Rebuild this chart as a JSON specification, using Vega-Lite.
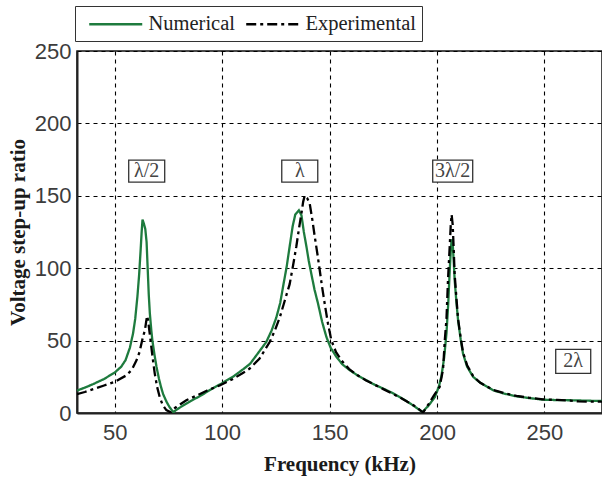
{
  "$schema": "https://vega.github.io/schema/vega-lite/v6.json",
  "width": 525,
  "height": 362,
  "autosize": {"type": "none"},
  "padding": {"left": 77, "top": 51, "right": 0, "bottom": 66},
  "background": "white",
  "config": {
    "view": {"stroke": "#111", "strokeWidth": 1.5},
    "axis": {
      "labelFont": "Liberation Sans",
      "labelFontSize": 22,
      "labelColor": "#3c3c3c",
      "titleFont": "Liberation Serif",
      "titleFontWeight": "bold",
      "titleFontSize": 21,
      "titleColor": "#1a1a1a",
      "grid": true,
      "gridColor": "#000",
      "gridDash": [4, 4],
      "gridWidth": 1.1,
      "gridOpacity": 1,
      "domainColor": "#222",
      "domainWidth": 2,
      "ticks": false
    },
    "legend": {
      "orient": "none",
      "legendX": -2,
      "legendY": -45,
      "direction": "horizontal",
      "symbolType": "M-0.36,0H4.69",
      "symbolSize": 441,
      "symbolStrokeWidth": 2.5,
      "labelFont": "Liberation Serif",
      "labelFontSize": 20.5,
      "labelColor": "#222",
      "labelOffset": 43.5,
      "columnPadding": 2,
      "padding": 6,
      "strokeColor": "#333",
      "fillColor": "white",
      "title": null
    }
  },
  "datasets": {
    "curves": [
      {"f": 32.4, "v": 15.5, "series": "Numerical"},
      {"f": 36, "v": 17.5, "series": "Numerical"},
      {"f": 40, "v": 20, "series": "Numerical"},
      {"f": 45, "v": 23.5, "series": "Numerical"},
      {"f": 50, "v": 28, "series": "Numerical"},
      {"f": 53, "v": 32, "series": "Numerical"},
      {"f": 55, "v": 36.5, "series": "Numerical"},
      {"f": 57, "v": 45, "series": "Numerical"},
      {"f": 58.5, "v": 55, "series": "Numerical"},
      {"f": 59.5, "v": 65, "series": "Numerical"},
      {"f": 60.5, "v": 80, "series": "Numerical"},
      {"f": 61.3, "v": 95, "series": "Numerical"},
      {"f": 62, "v": 112, "series": "Numerical"},
      {"f": 62.5, "v": 125, "series": "Numerical"},
      {"f": 62.9, "v": 133.5, "series": "Numerical"},
      {"f": 63.5, "v": 131, "series": "Numerical"},
      {"f": 64.2, "v": 127, "series": "Numerical"},
      {"f": 64.8, "v": 118, "series": "Numerical"},
      {"f": 65.3, "v": 100, "series": "Numerical"},
      {"f": 65.8, "v": 82, "series": "Numerical"},
      {"f": 66.3, "v": 69, "series": "Numerical"},
      {"f": 67, "v": 57, "series": "Numerical"},
      {"f": 67.5, "v": 50, "series": "Numerical"},
      {"f": 68.5, "v": 40, "series": "Numerical"},
      {"f": 69.4, "v": 32, "series": "Numerical"},
      {"f": 70.5, "v": 24, "series": "Numerical"},
      {"f": 71.5, "v": 18, "series": "Numerical"},
      {"f": 72.5, "v": 13, "series": "Numerical"},
      {"f": 74, "v": 8, "series": "Numerical"},
      {"f": 75.5, "v": 4, "series": "Numerical"},
      {"f": 77.3, "v": 0.5, "series": "Numerical"},
      {"f": 78, "v": 1.5, "series": "Numerical"},
      {"f": 80, "v": 3.5, "series": "Numerical"},
      {"f": 85, "v": 8, "series": "Numerical"},
      {"f": 90, "v": 12, "series": "Numerical"},
      {"f": 95, "v": 16.5, "series": "Numerical"},
      {"f": 99, "v": 19.8, "series": "Numerical"},
      {"f": 105, "v": 25, "series": "Numerical"},
      {"f": 110, "v": 30.5, "series": "Numerical"},
      {"f": 113, "v": 34, "series": "Numerical"},
      {"f": 117, "v": 42, "series": "Numerical"},
      {"f": 120.5, "v": 49, "series": "Numerical"},
      {"f": 123, "v": 57, "series": "Numerical"},
      {"f": 125.2, "v": 66, "series": "Numerical"},
      {"f": 127, "v": 76, "series": "Numerical"},
      {"f": 128.3, "v": 87, "series": "Numerical"},
      {"f": 130, "v": 101, "series": "Numerical"},
      {"f": 131.4, "v": 115, "series": "Numerical"},
      {"f": 132.8, "v": 129, "series": "Numerical"},
      {"f": 134, "v": 137, "series": "Numerical"},
      {"f": 135.7, "v": 140, "series": "Numerical"},
      {"f": 136.9, "v": 136.5, "series": "Numerical"},
      {"f": 138, "v": 125, "series": "Numerical"},
      {"f": 139.2, "v": 115, "series": "Numerical"},
      {"f": 140.3, "v": 105, "series": "Numerical"},
      {"f": 141.5, "v": 96, "series": "Numerical"},
      {"f": 143, "v": 85, "series": "Numerical"},
      {"f": 144.6, "v": 75.6, "series": "Numerical"},
      {"f": 146.5, "v": 63, "series": "Numerical"},
      {"f": 148.5, "v": 52.5, "series": "Numerical"},
      {"f": 150.5, "v": 45, "series": "Numerical"},
      {"f": 153.2, "v": 38.7, "series": "Numerical"},
      {"f": 156, "v": 33.5, "series": "Numerical"},
      {"f": 159.4, "v": 29.5, "series": "Numerical"},
      {"f": 163, "v": 26, "series": "Numerical"},
      {"f": 167.1, "v": 22.6, "series": "Numerical"},
      {"f": 171, "v": 19.5, "series": "Numerical"},
      {"f": 174.9, "v": 16.9, "series": "Numerical"},
      {"f": 179, "v": 14, "series": "Numerical"},
      {"f": 182.6, "v": 11, "series": "Numerical"},
      {"f": 186, "v": 8, "series": "Numerical"},
      {"f": 188.8, "v": 5.3, "series": "Numerical"},
      {"f": 191, "v": 3, "series": "Numerical"},
      {"f": 193.2, "v": 0.7, "series": "Numerical"},
      {"f": 196, "v": 5, "series": "Numerical"},
      {"f": 199, "v": 11, "series": "Numerical"},
      {"f": 200.8, "v": 18, "series": "Numerical"},
      {"f": 202, "v": 25, "series": "Numerical"},
      {"f": 203.3, "v": 38, "series": "Numerical"},
      {"f": 204.4, "v": 55, "series": "Numerical"},
      {"f": 205.2, "v": 75, "series": "Numerical"},
      {"f": 205.9, "v": 98, "series": "Numerical"},
      {"f": 206.4, "v": 112, "series": "Numerical"},
      {"f": 206.8, "v": 120, "series": "Numerical"},
      {"f": 207.3, "v": 117, "series": "Numerical"},
      {"f": 207.8, "v": 104, "series": "Numerical"},
      {"f": 208.2, "v": 92, "series": "Numerical"},
      {"f": 209, "v": 77, "series": "Numerical"},
      {"f": 209.8, "v": 64, "series": "Numerical"},
      {"f": 211, "v": 51, "series": "Numerical"},
      {"f": 212.1, "v": 41, "series": "Numerical"},
      {"f": 214, "v": 32, "series": "Numerical"},
      {"f": 216.8, "v": 25, "series": "Numerical"},
      {"f": 220, "v": 21, "series": "Numerical"},
      {"f": 226.1, "v": 15.7, "series": "Numerical"},
      {"f": 231, "v": 13.5, "series": "Numerical"},
      {"f": 237, "v": 11.5, "series": "Numerical"},
      {"f": 243, "v": 10.3, "series": "Numerical"},
      {"f": 249.3, "v": 9.2, "series": "Numerical"},
      {"f": 256, "v": 8.9, "series": "Numerical"},
      {"f": 262, "v": 8.8, "series": "Numerical"},
      {"f": 270, "v": 8.5, "series": "Numerical"},
      {"f": 276.8, "v": 8.3, "series": "Numerical"},

      {"f": 32.4, "v": 13, "series": "Experimental"},
      {"f": 36, "v": 14.5, "series": "Experimental"},
      {"f": 40, "v": 16.5, "series": "Experimental"},
      {"f": 45, "v": 19, "series": "Experimental"},
      {"f": 50, "v": 21.5, "series": "Experimental"},
      {"f": 55.4, "v": 26, "series": "Experimental"},
      {"f": 58, "v": 30, "series": "Experimental"},
      {"f": 60.1, "v": 36.4, "series": "Experimental"},
      {"f": 61.5, "v": 42, "series": "Experimental"},
      {"f": 63.1, "v": 52.5, "series": "Experimental"},
      {"f": 64, "v": 57, "series": "Experimental"},
      {"f": 64.6, "v": 63, "series": "Experimental"},
      {"f": 65, "v": 67, "series": "Experimental"},
      {"f": 65.5, "v": 64, "series": "Experimental"},
      {"f": 65.9, "v": 59, "series": "Experimental"},
      {"f": 66.5, "v": 52, "series": "Experimental"},
      {"f": 67, "v": 45.6, "series": "Experimental"},
      {"f": 67.8, "v": 36, "series": "Experimental"},
      {"f": 68.6, "v": 27.2, "series": "Experimental"},
      {"f": 69.7, "v": 18, "series": "Experimental"},
      {"f": 70.9, "v": 11, "series": "Experimental"},
      {"f": 72.3, "v": 5.5, "series": "Experimental"},
      {"f": 74, "v": 2, "series": "Experimental"},
      {"f": 76, "v": 0.5, "series": "Experimental"},
      {"f": 78, "v": 3.5, "series": "Experimental"},
      {"f": 80.5, "v": 6, "series": "Experimental"},
      {"f": 83.3, "v": 8.8, "series": "Experimental"},
      {"f": 88, "v": 12, "series": "Experimental"},
      {"f": 93, "v": 15.5, "series": "Experimental"},
      {"f": 98.8, "v": 19, "series": "Experimental"},
      {"f": 105, "v": 23.5, "series": "Experimental"},
      {"f": 110, "v": 28, "series": "Experimental"},
      {"f": 112.8, "v": 30.7, "series": "Experimental"},
      {"f": 117.4, "v": 37.6, "series": "Experimental"},
      {"f": 120, "v": 44, "series": "Experimental"},
      {"f": 122.1, "v": 49, "series": "Experimental"},
      {"f": 124.5, "v": 57, "series": "Experimental"},
      {"f": 126.8, "v": 66, "series": "Experimental"},
      {"f": 129, "v": 77, "series": "Experimental"},
      {"f": 131.4, "v": 89, "series": "Experimental"},
      {"f": 133, "v": 102, "series": "Experimental"},
      {"f": 134.5, "v": 115, "series": "Experimental"},
      {"f": 135.8, "v": 128, "series": "Experimental"},
      {"f": 136.9, "v": 138, "series": "Experimental"},
      {"f": 137.7, "v": 146, "series": "Experimental"},
      {"f": 138.4, "v": 150, "series": "Experimental"},
      {"f": 139.5, "v": 148.5, "series": "Experimental"},
      {"f": 140.7, "v": 145, "series": "Experimental"},
      {"f": 142, "v": 133, "series": "Experimental"},
      {"f": 143.1, "v": 121.6, "series": "Experimental"},
      {"f": 144.3, "v": 110, "series": "Experimental"},
      {"f": 145.4, "v": 98.6, "series": "Experimental"},
      {"f": 146.5, "v": 87, "series": "Experimental"},
      {"f": 147.7, "v": 75.6, "series": "Experimental"},
      {"f": 149.2, "v": 62, "series": "Experimental"},
      {"f": 150.8, "v": 50.2, "series": "Experimental"},
      {"f": 153, "v": 42, "series": "Experimental"},
      {"f": 155.5, "v": 36.4, "series": "Experimental"},
      {"f": 159, "v": 30.5, "series": "Experimental"},
      {"f": 163, "v": 26, "series": "Experimental"},
      {"f": 167, "v": 22.5, "series": "Experimental"},
      {"f": 171, "v": 19.5, "series": "Experimental"},
      {"f": 175, "v": 16.5, "series": "Experimental"},
      {"f": 179, "v": 13.5, "series": "Experimental"},
      {"f": 183, "v": 10.5, "series": "Experimental"},
      {"f": 187, "v": 7, "series": "Experimental"},
      {"f": 190, "v": 4.5, "series": "Experimental"},
      {"f": 193.5, "v": 0.3, "series": "Experimental"},
      {"f": 196, "v": 6, "series": "Experimental"},
      {"f": 198.5, "v": 12, "series": "Experimental"},
      {"f": 201.2, "v": 18, "series": "Experimental"},
      {"f": 202.8, "v": 30, "series": "Experimental"},
      {"f": 203.6, "v": 50, "series": "Experimental"},
      {"f": 204.4, "v": 65, "series": "Experimental"},
      {"f": 205.1, "v": 91.7, "series": "Experimental"},
      {"f": 205.9, "v": 115, "series": "Experimental"},
      {"f": 206.4, "v": 130, "series": "Experimental"},
      {"f": 206.8, "v": 137, "series": "Experimental"},
      {"f": 207.3, "v": 130, "series": "Experimental"},
      {"f": 207.8, "v": 112, "series": "Experimental"},
      {"f": 208.2, "v": 96, "series": "Experimental"},
      {"f": 209, "v": 80, "series": "Experimental"},
      {"f": 209.8, "v": 65, "series": "Experimental"},
      {"f": 211, "v": 52, "series": "Experimental"},
      {"f": 212.1, "v": 42, "series": "Experimental"},
      {"f": 214, "v": 33, "series": "Experimental"},
      {"f": 216.8, "v": 25.5, "series": "Experimental"},
      {"f": 220, "v": 21, "series": "Experimental"},
      {"f": 226, "v": 16, "series": "Experimental"},
      {"f": 231, "v": 13.8, "series": "Experimental"},
      {"f": 237, "v": 11.8, "series": "Experimental"},
      {"f": 243, "v": 10.5, "series": "Experimental"},
      {"f": 249.3, "v": 9.4, "series": "Experimental"},
      {"f": 256, "v": 9, "series": "Experimental"},
      {"f": 262, "v": 8.5, "series": "Experimental"},
      {"f": 266, "v": 8, "series": "Experimental"},
      {"f": 270, "v": 7.8, "series": "Experimental"},
      {"f": 276.8, "v": 7.8, "series": "Experimental"}
    ],
    "labels": [
      {"f": 64.85, "v": 167, "label": "λ/2"},
      {"f": 136.1, "v": 167, "label": "λ"},
      {"f": 207.3, "v": 167, "label": "3λ/2"},
      {"f": 263.4, "v": 35.7, "label": "2λ"}
    ]
  },
  "encoding": {
    "x": {
      "field": "f",
      "type": "quantitative",
      "scale": {"domain": [32.4, 276.8], "nice": false, "zero": false},
      "axis": {
        "values": [50, 100, 150, 200, 250],
        "title": "Frequency (kHz)",
        "labelPadding": 9,
        "titlePadding": 10
      }
    },
    "y": {
      "field": "v",
      "type": "quantitative",
      "scale": {"domain": [0, 250], "nice": false},
      "axis": {
        "values": [0, 50, 100, 150, 200, 250],
        "title": "Voltage step-up ratio",
        "labelPadding": 6,
        "titlePadding": 6
      }
    }
  },
  "layer": [
    {
      "data": {"name": "curves"},
      "transform": [{"filter": "datum.series === 'Numerical'"}],
      "mark": {"type": "line", "strokeWidth": 2.3, "clip": true},
      "encoding": {
        "color": {
          "field": "series",
          "type": "nominal",
          "scale": {"domain": ["Numerical", "Experimental"], "range": ["#1e7b3e", "#000000"]}
        },
        "strokeDash": {
          "field": "series",
          "type": "nominal",
          "scale": {"domain": ["Numerical", "Experimental"], "range": [[1, 0], [10, 4, 3, 4]]}
        }
      }
    },
    {
      "data": {"name": "curves"},
      "transform": [{"filter": "datum.series === 'Experimental'"}],
      "mark": {"type": "line", "strokeWidth": 2.3, "clip": true},
      "encoding": {
        "color": {"field": "series", "type": "nominal"},
        "strokeDash": {"field": "series", "type": "nominal"}
      }
    },
    {
      "data": {"name": "labels"},
      "mark": {
        "type": "point",
        "filled": true,
        "fill": "white",
        "fillOpacity": 1,
        "stroke": "#333",
        "strokeWidth": 1.3,
        "strokeOpacity": 1,
        "size": 400
      },
      "encoding": {
        "shape": {
          "field": "label",
          "type": "nominal",
          "scale": {
            "domain": ["λ/2", "λ", "3λ/2", "2λ"],
            "range": [
              "M-1.8,-1.1H1.8V1.1H-1.8Z",
              "M-1.8,-1.1H1.8V1.1H-1.8Z",
              "M-2,-1.1H2V1.1H-2Z",
              "M-1.75,-1.2H1.75V1.2H-1.75Z"
            ]
          },
          "legend": null
        }
      }
    },
    {
      "data": {"name": "labels"},
      "mark": {
        "type": "text",
        "font": "Liberation Serif",
        "fontSize": 20,
        "color": "#444",
        "align": "center",
        "baseline": "middle"
      },
      "encoding": {
        "text": {"field": "label", "type": "nominal"}
      }
    }
  ]
}
